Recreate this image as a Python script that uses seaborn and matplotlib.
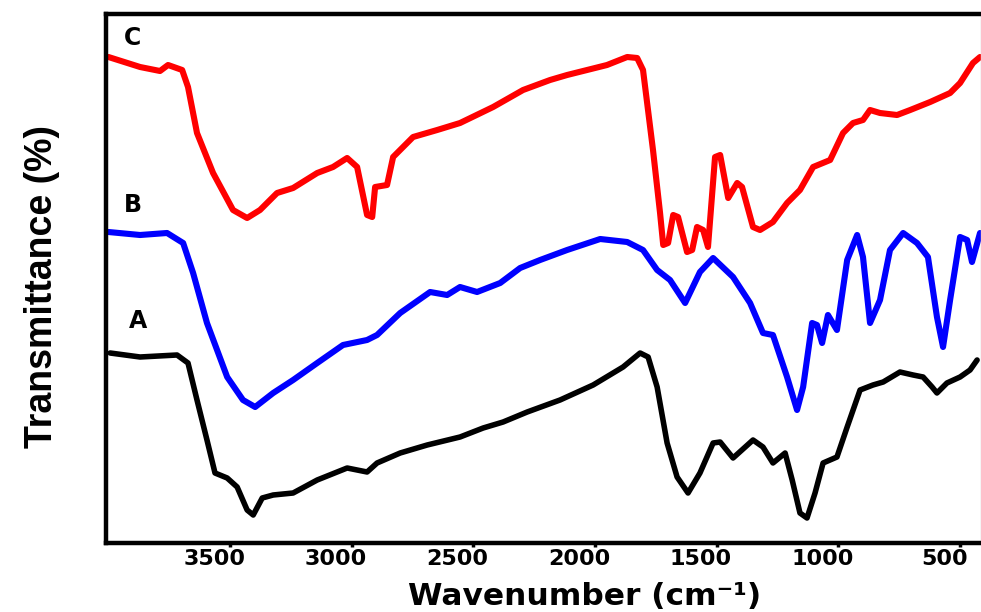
import matplotlib
matplotlib.use("Agg")
import matplotlib.pyplot as plt
import matplotlib.transforms as mtransforms
import numpy as np
import pandas as pd
import seaborn as sns

# FTIR spectra (wavenumber in cm^-1, transmittance in arbitrary offset units)
wn_A = [3993, 3870, 3718, 3673, 3636, 3595, 3562, 3512, 3471, 3430, 3405, 3368,
        3323, 3241, 3142, 3019, 2937, 2896, 2801, 2690, 2555, 2460, 2378, 2279,
        2144, 2008, 1885, 1815, 1782, 1745, 1704, 1663, 1618, 1569, 1515, 1486,
        1433, 1351, 1310, 1269, 1219, 1190, 1158, 1129, 1096, 1063, 1006, 964,
        911, 858, 816, 747, 693, 652, 615, 595, 554, 500, 459, 430]
tr_A = [190, 186, 188, 180, 143, 103, 70, 65, 56, 33, 28, 45,
        48, 50, 63, 75, 71, 80, 90, 98, 106, 115, 121, 131,
        143, 158, 176, 190, 186, 156, 100, 66, 50, 70, 100, 101,
        85, 103, 96, 80, 90, 63, 30, 25, 50, 80, 86, 116,
        153, 158, 161, 171, 168, 166, 156, 150, 160, 166, 173, 183]

wn_B = [4000, 3870, 3759, 3693, 3652, 3595, 3512, 3447, 3397, 3323, 3241, 3142,
        3036, 2937, 2896, 2801, 2678, 2608, 2555, 2485, 2390, 2308, 2226, 2115,
        1979, 1868, 1803, 1745, 1692, 1630, 1569, 1515, 1433, 1363, 1310, 1269,
        1211, 1170, 1145, 1108, 1088, 1067, 1043, 1006, 964, 923, 899, 870,
        829, 788, 734, 677, 632, 595, 570, 541, 500, 471, 451, 418]
tr_B = [311, 308, 310, 300, 270, 220, 166, 143, 136, 150, 163, 180,
        198, 203, 208, 230, 251, 248, 256, 251, 260, 275, 283, 293,
        304, 301, 293, 273, 263, 240, 271, 285, 266, 240, 210, 208,
        166, 133, 156, 220, 218, 200, 228, 213, 283, 308, 286, 220,
        243, 293, 310, 300, 286, 226, 196, 243, 306, 303, 281, 310]

wn_C = [4000, 3870, 3788, 3755, 3697, 3673, 3636, 3570, 3488, 3430, 3377, 3307,
        3241, 3142, 3077, 3019, 2978, 2937, 2916, 2904, 2855, 2830, 2748, 2649,
        2555, 2419, 2296, 2185, 2115, 1951, 1868, 1827, 1803, 1762, 1733, 1720,
        1700, 1679, 1659, 1622, 1601, 1581, 1556, 1536, 1507, 1486, 1453, 1416,
        1396, 1351, 1322, 1269, 1211, 1158, 1104, 1034, 981, 940, 899, 870,
        829, 759, 705, 623, 541, 500, 447, 418]
tr_C = [486, 476, 472, 478, 473, 456, 410, 370, 333, 325, 333, 350,
        355, 370, 376, 385, 376, 328, 326, 356, 358, 386, 406, 413,
        420, 436, 453, 463, 468, 478, 486, 485, 473, 393, 330, 298,
        300, 328, 326, 291, 293, 316, 313, 296, 386, 388, 345, 360,
        356, 316, 313, 321, 340, 353, 376, 383, 410, 420, 423, 433,
        430, 428, 433, 441, 450, 460, 480, 486]

samples = ["A", "B", "C"]
colors = ["#000000", "#0000FF", "#FF0000"]
label_pos = [(3880, 222), (3900, 338), (3900, 505)]
xticks = [3500, 3000, 2500, 2000, 1500, 1000, 500]

df = pd.concat([
    pd.DataFrame({"wavenumber": wn_A, "transmittance": tr_A, "sample": "A"}),
    pd.DataFrame({"wavenumber": wn_B, "transmittance": tr_B, "sample": "B"}),
    pd.DataFrame({"wavenumber": wn_C, "transmittance": tr_C, "sample": "C"}),
], ignore_index=True)

sns.set_theme(style="white")
plt.rcParams["font.family"] = ["DejaVu Sans"]
plt.rcParams["text.color"] = "black"
plt.rcParams["xtick.color"] = "black"
plt.rcParams["xtick.labelcolor"] = "black"

fig = plt.figure(figsize=(9.81, 6.12), dpi=100)
ax = fig.add_axes([106 / 981, 1 - 543 / 612, 875 / 981, 529 / 612])

sns.lineplot(data=df, x="wavenumber", y="transmittance", hue="sample",
             hue_order=samples, palette=colors, sort=False, estimator=None,
             linewidth=4.4, legend=False, ax=ax)
for line, s in zip(ax.get_lines(), samples):
    line.set_solid_capstyle("round")
    line.set_solid_joinstyle("round")
    if s == "A":
        line.set_linewidth(4.0)

for s, (x, y) in zip(samples, label_pos):
    ax.text(x, y, s, fontsize=17, fontweight="bold", ha="center", va="center",
            color="black")

ax.set_xlim(4010, 414)
ax.set_ylim(0, 529)
ax.set_xticks(xticks)
ax.set_xticklabels([str(t) for t in xticks], fontsize=16, fontweight="bold",
                   color="black")
ax.set_yticks([])
ax.set_xlabel("")
ax.set_ylabel("")
ax.tick_params(axis="x", direction="out", length=3, width=2.5, pad=1,
               color="black", bottom=True)
shift = mtransforms.ScaledTranslation(-0.16, 0, fig.dpi_scale_trans)
for lab in ax.get_xticklabels():
    lab.set_transform(lab.get_transform() + shift)

for side in ["left", "top", "bottom"]:
    ax.spines[side].set_color("black")
    ax.spines[side].set_linewidth(3.2)
ax.spines["right"].set_color("#cccccc")
ax.spines["right"].set_linewidth(1.0)

fig.text(585 / 981, 1 / 612, "Wavenumber (cm\u207b\u00b9)", fontsize=22.5,
         fontweight="bold", ha="center", va="bottom", color="black")
fig.text(42 / 981, 1 - 287 / 612, "Transmittance (%)", rotation=90,
         family=["Liberation Sans Narrow", "Liberation Sans", "DejaVu Sans"],
         fontsize=27, fontweight="bold", ha="center", va="center", color="black")

fig.savefig("out.png", dpi=100, facecolor="white")
